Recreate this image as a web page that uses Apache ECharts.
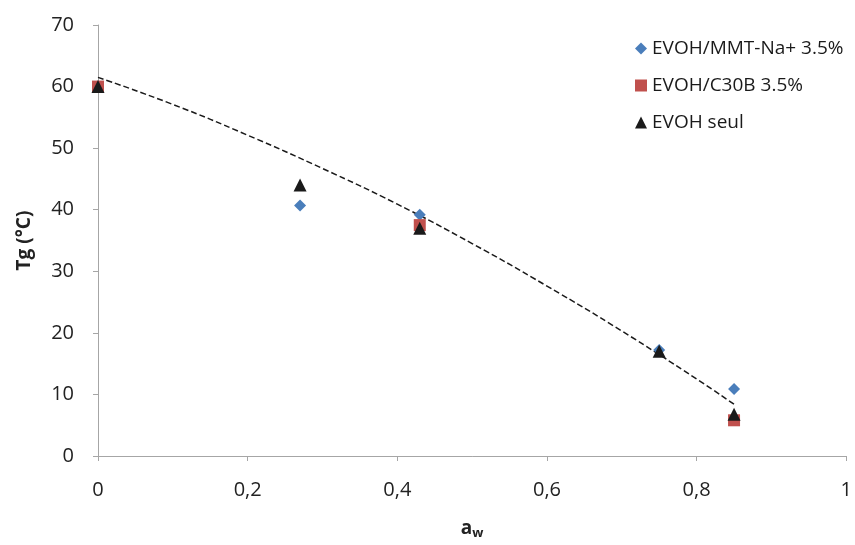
<!DOCTYPE html>
<html><head><meta charset="utf-8">
<script src="https://cdn.jsdelivr.net/npm/echarts@6/dist/echarts.min.js"></script>
<style>html,body{margin:0;padding:0;background:#fff}#c{width:855px;height:545px}</style>
</head><body><div id="c"></div>
<script>
var mmtNa = [[0,60],[0.27,40.7],[0.43,39.2],[0.75,17.2],[0.85,10.9]];
var c30b = [[0,60],[0.43,37.5],[0.85,5.8]];
var seul = [[0,60],[0.27,44],[0.43,37],[0.75,17],[0.85,6.8]];
var trend = [[0,61.5],[0.1,57.1],[0.2,52.1],[0.3,46.7],[0.4,40.9],[0.5,34.5],[0.6,27.6],[0.7,20.3],[0.8,12.5],[0.85,8.4]];
var names = ['EVOH/MMT-Na+ 3.5%','EVOH/C30B 3.5%','EVOH seul'];

var font = '"Open Sans", "Liberation Sans", sans-serif';
var chart = echarts.init(document.getElementById('c'));
chart.setOption({
  animation:false,
  textStyle:{fontFamily:font},
  grid:{left:98,right:5,top:25,bottom:89},
  legend:{
    orient:'vertical', left:630, top:34, itemGap:18, itemWidth:12, itemHeight:12,
    textStyle:{fontSize:19,color:'#1a1a1a',fontFamily:font},
    data:[{name:names[0],icon:'diamond'},{name:names[1],icon:'rect'},{name:names[2],icon:'triangle'}]
  },
  xAxis:{
    type:'value', min:0, max:1, interval:0.2,
    axisLine:{lineStyle:{color:'#a6a6a6'}},
    axisTick:{show:true,length:5,lineStyle:{color:'#a6a6a6'}},
    splitLine:{show:false},
    axisLabel:{fontSize:20,color:'#222',margin:24,formatter:function(v){return String(+v.toFixed(1)).replace('.',',');}},
    name:'{a|a}{w|w}', nameLocation:'middle', nameGap:62,
    nameTextStyle:{rich:{a:{fontSize:19,fontWeight:'bold',color:'#222',fontFamily:font},w:{fontSize:13,fontWeight:'bold',color:'#222',verticalAlign:'bottom',padding:[9,0,0,0],fontFamily:font}}}
  },
  yAxis:{
    type:'value', min:0, max:70, interval:10,
    axisLine:{show:true,lineStyle:{color:'#a6a6a6'}},
    axisTick:{show:true,length:5,lineStyle:{color:'#a6a6a6'}},
    splitLine:{show:false},
    axisLabel:{fontSize:20,color:'#222',margin:24},
    name:'Tg (°C)', nameLocation:'middle', nameGap:64, nameRotate:90,
    nameTextStyle:{fontSize:19,fontWeight:'bold',color:'#222'}
  },
  series:[
    {name:'trend',type:'line',data:trend,smooth:true,symbol:'none',lineStyle:{color:'#1a1a1a',width:1.5,type:[6,3]},z:1,silent:true},
    {name:names[0],type:'scatter',data:mmtNa,symbol:'diamond',symbolSize:12,itemStyle:{color:'#4a7ebb',opacity:1},z:2},
    {name:names[1],type:'scatter',data:c30b,symbol:'rect',symbolSize:12,itemStyle:{color:'#c0504d',opacity:1},z:3},
    {name:names[2],type:'scatter',data:seul,symbol:'triangle',symbolSize:13,itemStyle:{color:'#1a1a1a',opacity:1},z:4}
  ]
});
</script></body></html>
